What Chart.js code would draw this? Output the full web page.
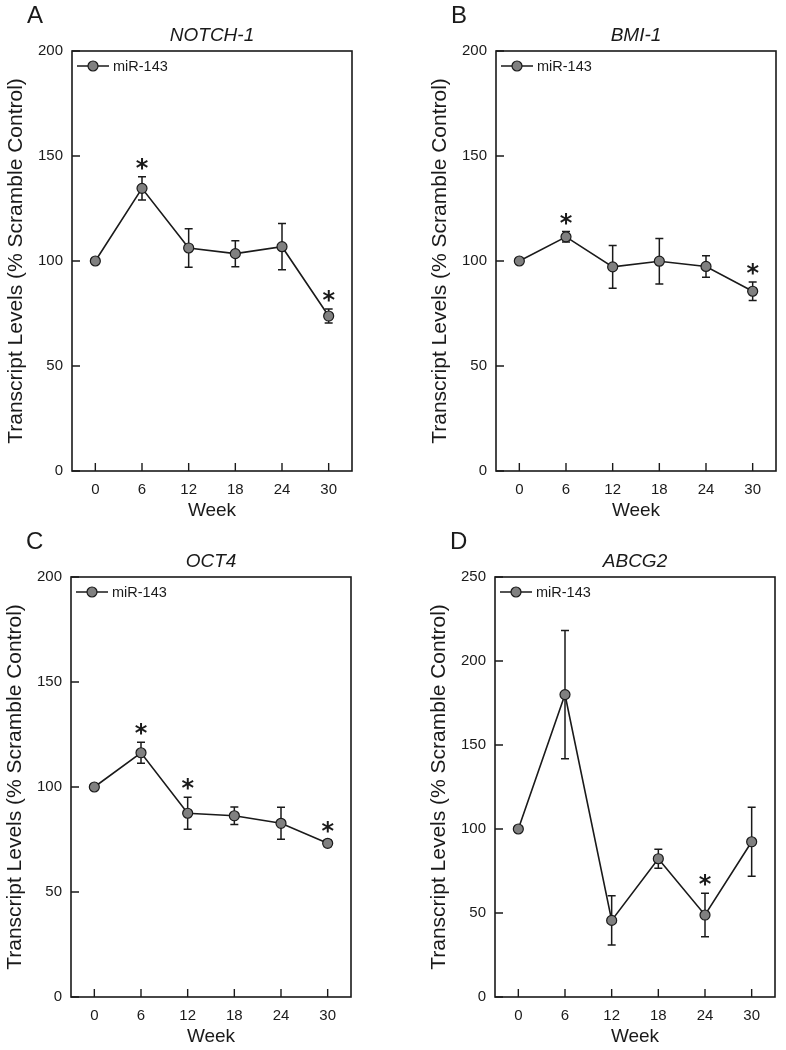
<!DOCTYPE html>
<html>
<head>
<meta charset="utf-8">
<title>miR-143 transcript levels</title>
<script src="https://cdn.jsdelivr.net/npm/chart.js@4"></script>
<style>
  html, body { margin: 0; padding: 0; background: #fff; }
  #wrap { position: relative; width: 786px; height: 1050px; }
  .panel { position: absolute; width: 393px; height: 525px; }
</style>
</head>
<body>
<div id="wrap">
  <div class="panel" style="left:0;top:0"><canvas id="chartA" width="393" height="525"></canvas></div>
  <div class="panel" style="left:393px;top:0"><canvas id="chartB" width="393" height="525"></canvas></div>
  <div class="panel" style="left:0;top:526px"><canvas id="chartC" width="393" height="525"></canvas></div>
  <div class="panel" style="left:393px;top:526px"><canvas id="chartD" width="393" height="525"></canvas></div>
</div>
<script>
const weeks = [0, 6, 12, 18, 24, 30];
const xTicks = [0, 6, 12, 18, 24, 30];
const seriesName = "miR-143";

const notchMean = [100, 134.6, 106.2, 103.5, 106.8, 73.8];
const notchErr = [0, 5.5, 9.2, 6.2, 11, 3.3];
const notchSig = [false, true, false, false, false, true];

const bmiMean = [100, 111.5, 97.2, 99.9, 97.4, 85.6];
const bmiErr = [0, 2.5, 10.2, 10.8, 5.1, 4.4];
const bmiSig = [false, true, false, false, false, true];

const oct4Mean = [100, 116.3, 87.5, 86.3, 82.7, 73.2];
const oct4Err = [0, 5, 7.6, 4.2, 7.6, 1.5];
const oct4Sig = [false, true, true, false, false, true];

const abcg2Mean = [100, 180, 45.6, 82.3, 48.8, 92.4];
const abcg2Err = [0, 38.2, 14.6, 5.6, 12.9, 20.5];
const abcg2Sig = [false, false, false, false, true, false];

const FONT = "'Liberation Sans', Arial, sans-serif";
const INK = "#1a1a1a";

// frame, inward ticks, error bars, asterisks, legend, gene title, panel letter
const panelDecor = {
  id: "panelDecor",
  beforeDatasetsDraw(chart, args, opts) {
    const { ctx, chartArea: a } = chart;
    const x = chart.scales.x, y = chart.scales.y;
    ctx.save();
    ctx.strokeStyle = INK;
    ctx.lineWidth = 1.6;
    ctx.strokeRect(a.left, a.top, a.right - a.left, a.bottom - a.top);

    ctx.lineWidth = 1.4;
    ctx.beginPath();
    xTicks.forEach((v) => {
      const px = x.getPixelForValue(v);
      ctx.moveTo(px, a.bottom);
      ctx.lineTo(px, a.bottom - 8);
    });
    y.ticks.forEach((t) => {
      const py = y.getPixelForValue(t.value);
      ctx.moveTo(a.left, py);
      ctx.lineTo(a.left + 8, py);
    });
    ctx.stroke();

    // error bars
    ctx.lineWidth = 1.5;
    ctx.beginPath();
    weeks.forEach((w, i) => {
      const e = opts.err[i];
      if (!e) return;
      const px = x.getPixelForValue(w);
      const top = y.getPixelForValue(opts.mean[i] + e);
      const bot = y.getPixelForValue(opts.mean[i] - e);
      ctx.moveTo(px, top); ctx.lineTo(px, bot);
      ctx.moveTo(px - 4, top); ctx.lineTo(px + 4, top);
      ctx.moveTo(px - 4, bot); ctx.lineTo(px + 4, bot);
    });
    ctx.stroke();
    ctx.restore();
  },
  afterDraw(chart, args, opts) {
    const { ctx, chartArea: a } = chart;
    const x = chart.scales.x, y = chart.scales.y;
    ctx.save();
    ctx.fillStyle = INK;

    // asterisks
    ctx.font = "bold 24px 'DejaVu Sans', sans-serif";
    ctx.textAlign = "center";
    ctx.textBaseline = "alphabetic";
    const m = ctx.measureText("*");
    const mid = (m.actualBoundingBoxAscent - m.actualBoundingBoxDescent) / 2;
    weeks.forEach((w, i) => {
      if (!opts.sig[i]) return;
      const px = x.getPixelForValue(w);
      const top = y.getPixelForValue(opts.mean[i] + opts.err[i]);
      ctx.fillText("*", px, top - 13 + mid);
    });

    // legend
    const ly = a.top + 15;
    ctx.strokeStyle = INK;
    ctx.lineWidth = 1.5;
    ctx.beginPath();
    ctx.moveTo(a.left + 5, ly);
    ctx.lineTo(a.left + 37, ly);
    ctx.stroke();
    ctx.beginPath();
    ctx.arc(a.left + 21, ly, 5, 0, Math.PI * 2);
    ctx.fillStyle = "#808080";
    ctx.fill();
    ctx.lineWidth = 1.2;
    ctx.stroke();
    ctx.fillStyle = INK;
    ctx.font = "14.5px " + FONT;
    ctx.textAlign = "left";
    ctx.textBaseline = "middle";
    ctx.fillText(seriesName, a.left + 41, ly + 1);

    // gene title
    ctx.font = "italic 19px " + FONT;
    ctx.textAlign = "center";
    ctx.fillText(opts.gene, (a.left + a.right) / 2, a.top - 15);

    // panel letter
    ctx.font = "24px " + FONT;
    ctx.textAlign = "left";
    ctx.fillText(opts.letter, a.left - 45, a.top - 35);
    ctx.restore();
  },
};

function makePanel(id, letter, gene, mean, err, sig, yMax, shift) {
  const plotW = 280;
  new Chart(document.getElementById(id).getContext("2d"), {
    type: "line",
    data: {
      datasets: [
        {
          label: seriesName,
          data: weeks.map((w, i) => ({ x: w, y: mean[i] })),
          borderColor: INK,
          borderWidth: 1.6,
          pointRadius: 5,
          pointBackgroundColor: "#808080",
          pointBorderColor: INK,
          pointBorderWidth: 1.2,
          tension: 0,
        },
      ],
    },
    options: {
      responsive: false,
      animation: false,
      events: [],
      layout: {
        padding: { left: shift, top: 51, right: 393 - shift - 72 - plotW, bottom: 0 },
      },
      scales: {
        x: {
          type: "linear",
          min: -3,
          max: 33,
          afterBuildTicks: (s) => {
            s.ticks = xTicks.map((v) => ({ value: v }));
          },
          afterFit: (s) => {
            s.height = 54;
          },
          grid: { display: false, drawTicks: false },
          border: { display: false },
          ticks: { padding: 10, color: INK, font: { family: FONT, size: 15 } },
          title: {
            display: true,
            text: "Week",
            color: INK,
            font: { family: FONT, size: 19 },
            padding: { top: 0, bottom: 3 },
          },
        },
        y: {
          min: 0,
          max: yMax,
          afterFit: (s) => {
            s.width = 72;
          },
          grid: { display: false, drawTicks: false },
          border: { display: false },
          ticks: { stepSize: 50, padding: 9, color: INK, font: { family: FONT, size: 15 } },
          title: {
            display: true,
            text: "Transcript Levels (% Scramble Control)",
            color: INK,
            font: { family: FONT, size: 21 },
            padding: { top: 4, bottom: 0 },
          },
        },
      },
      plugins: {
        legend: { display: false },
        tooltip: { enabled: false },
        panelDecor: { letter, gene, mean, err, sig },
      },
    },
    plugins: [panelDecor],
  });
}

makePanel("chartA", "A", "NOTCH-1", notchMean, notchErr, notchSig, 200, 0);
makePanel("chartB", "B", "BMI-1", bmiMean, bmiErr, bmiSig, 200, 31);
makePanel("chartC", "C", "OCT4", oct4Mean, oct4Err, oct4Sig, 200, -1);
makePanel("chartD", "D", "ABCG2", abcg2Mean, abcg2Err, abcg2Sig, 250, 30);
</script>
</body>
</html>
